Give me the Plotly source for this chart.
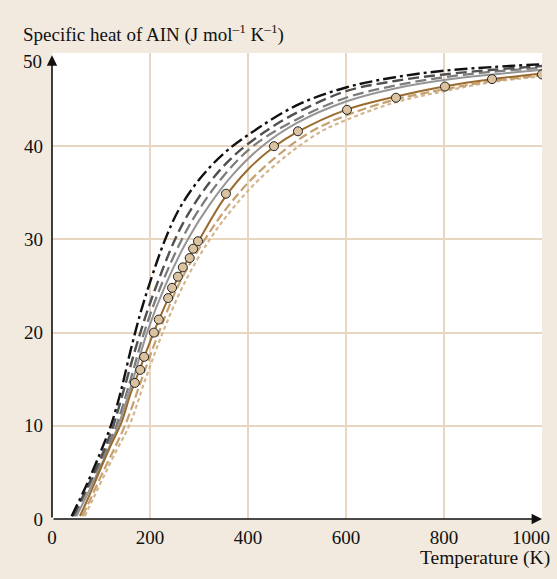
import plotly.graph_objects as go

# curves: temperature (K) and specific heat (J mol-1 K-1)
t_black = [40, 70, 100, 120, 140, 160, 180, 200, 231, 260, 300, 350, 400, 500, 600, 700, 800, 900, 1000]
cp_black = [0.3, 3.6, 7.3, 10.0, 13.6, 18.0, 22.0, 25.4, 30.0, 33.3, 36.4, 39.2, 41.2, 44.4, 46.3, 47.4, 48.1, 48.5, 48.8]

t_dgray = [43, 70, 100, 125, 150, 170, 190, 210, 251, 280, 320, 360, 394, 450, 500, 600, 700, 800, 900, 1000]
cp_dgray = [0.3, 3.2, 6.6, 10.0, 14.5, 18.2, 21.6, 24.6, 30.0, 32.9, 36.0, 38.4, 40.0, 42.1, 43.6, 45.9, 47.0, 47.7, 48.2, 48.6]

t_gray = [46, 75, 100, 131, 160, 188, 220, 265, 300, 350, 410, 500, 600, 700, 800, 900, 1000]
cp_gray = [0.3, 3.5, 6.2, 10.0, 14.9, 20.0, 24.7, 30.0, 33.2, 36.8, 40.0, 42.9, 45.2, 46.5, 47.4, 48.0, 48.4]

t_gsolid = [50, 80, 105, 135, 165, 194, 230, 277, 320, 370, 429, 500, 600, 700, 800, 900, 1000]
cp_gsolid = [0.3, 3.5, 6.3, 10.0, 14.9, 20.0, 24.9, 30.0, 33.6, 37.0, 40.0, 42.5, 44.8, 46.2, 47.1, 47.7, 48.2]

t_brown = [57, 70, 85, 100, 120, 142, 160, 180, 200, 220, 240, 260, 280, 300, 350, 400, 450, 500, 600, 700, 800, 900, 1000]
cp_brown = [0.3, 1.8, 3.6, 5.5, 7.9, 10.4, 13.4, 16.2, 19.0, 21.6, 24.0, 26.2, 28.1, 29.9, 34.3, 37.5, 39.8, 41.5, 43.9, 45.3, 46.4, 47.2, 47.8]

t_tan = [62, 80, 100, 125, 151, 185, 218, 260, 312, 360, 410, 470, 530, 600, 700, 800, 900, 1000]
cp_tan = [0.3, 2.3, 4.6, 7.3, 10.3, 15.3, 20.0, 25.3, 30.0, 33.6, 36.6, 39.4, 41.6, 43.3, 45.0, 46.1, 47.0, 47.6]

t_tandot = [67, 85, 105, 130, 159, 190, 226, 270, 322, 370, 420, 486, 550, 600, 700, 800, 900, 1000]
cp_tandot = [0.3, 2.3, 4.5, 7.2, 10.2, 14.9, 20.0, 25.3, 30.0, 33.4, 36.3, 39.3, 41.6, 42.8, 44.7, 45.9, 46.9, 47.5]

# measured points
t_meas = [169, 180, 188, 208, 218, 237, 245, 257, 267, 281, 288, 298, 355, 453, 502, 602, 702, 802, 898, 1000]
cp_meas = [14.6, 16.0, 17.4, 20.0, 21.4, 23.7, 24.8, 26.0, 27.0, 28.0, 29.0, 29.8, 34.9, 40.0, 41.6, 43.9, 45.2, 46.4, 47.2, 47.7]

curves = [
    (t_tandot, cp_tandot, '#d3b68d', '4px,3px', 2.2),
    (t_tan, cp_tan, '#c5a070', '9px,4px', 2.2),
    (t_gsolid, cp_gsolid, '#959595', 'solid', 2.0),
    (t_gray, cp_gray, '#7c7c7c', '11px,5px', 2.3),
    (t_dgray, cp_dgray, '#505050', '11px,5px', 2.4),
    (t_black, cp_black, '#111111', '13px,4px,3px,4px', 2.4),
    (t_brown, cp_brown, '#9a6a2e', 'solid', 2.0),
]

fig = go.Figure()
for t, cp, col, dash, w in curves:
    fig.add_trace(go.Scatter(x=t, y=cp, mode='lines', line=dict(color=col, dash=dash, width=w, shape='spline', smoothing=1.0),
                             showlegend=False, hoverinfo='skip'))

fig.add_trace(go.Scatter(x=t_meas, y=cp_meas, mode='markers', showlegend=False,
                         marker=dict(size=9, color='#dcc3a0', line=dict(color='#222222', width=1))))

font = dict(family='Liberation Serif', size=19, color='#111111')

fig.update_layout(
    width=557, height=579,
    margin=dict(l=52, r=15, t=53, b=60),
    paper_bgcolor='#f2eadf', plot_bgcolor='white',
    font=font,
    xaxis=dict(range=[0, 1000], tickvals=[0, 200, 400, 600, 800], showgrid=True, gridcolor='#e8d6c0', gridwidth=1.5,
               zeroline=False, showline=False, ticks='', ticklabelstandoff=5, fixedrange=True),
    yaxis=dict(range=[0, 50], tickvals=[0, 10, 20, 30, 40], showgrid=True, gridcolor='#e8d6c0', gridwidth=1.5,
               zeroline=False, showline=False, ticks='', ticklabelstandoff=8, fixedrange=True),
    annotations=[
        dict(text='Specific heat of AIN (J mol<sup>–1</sup> K<sup>–1</sup>)', xref='paper', yref='paper',
             x=-0.063, y=1.041, xanchor='left', yanchor='middle', showarrow=False, font=dict(size=19)),
        dict(text='50', xref='paper', yref='y', x=-0.016, y=50, yshift=-8,
             xanchor='right', yanchor='middle', showarrow=False),
        dict(text='1000', xref='x', yref='paper', x=1000, y=-0.039, xshift=10,
             xanchor='right', yanchor='middle', showarrow=False),
        dict(text='Temperature (K)', xref='paper', yref='paper', x=1.0204, y=-0.083,
             xanchor='right', yanchor='middle', showarrow=False, font=dict(size=19.5)),
        dict(x=0, y=0.995, ax=0, ay=0, xref='x domain', yref='y domain', axref='x domain', ayref='y domain',
             showarrow=True, arrowhead=2, arrowsize=1.3, arrowwidth=1.6, arrowcolor='#111111', text=''),
        dict(x=1.0, y=0, ax=0, ay=0, xref='x domain', yref='y domain', axref='x domain', ayref='y domain',
             showarrow=True, arrowhead=2, arrowsize=1.3, arrowwidth=1.6, arrowcolor='#111111', text=''),
    ],
)

fig.write_html("out.html", config={'displayModeBar': False}, post_script="document.body.style.margin='0';")
